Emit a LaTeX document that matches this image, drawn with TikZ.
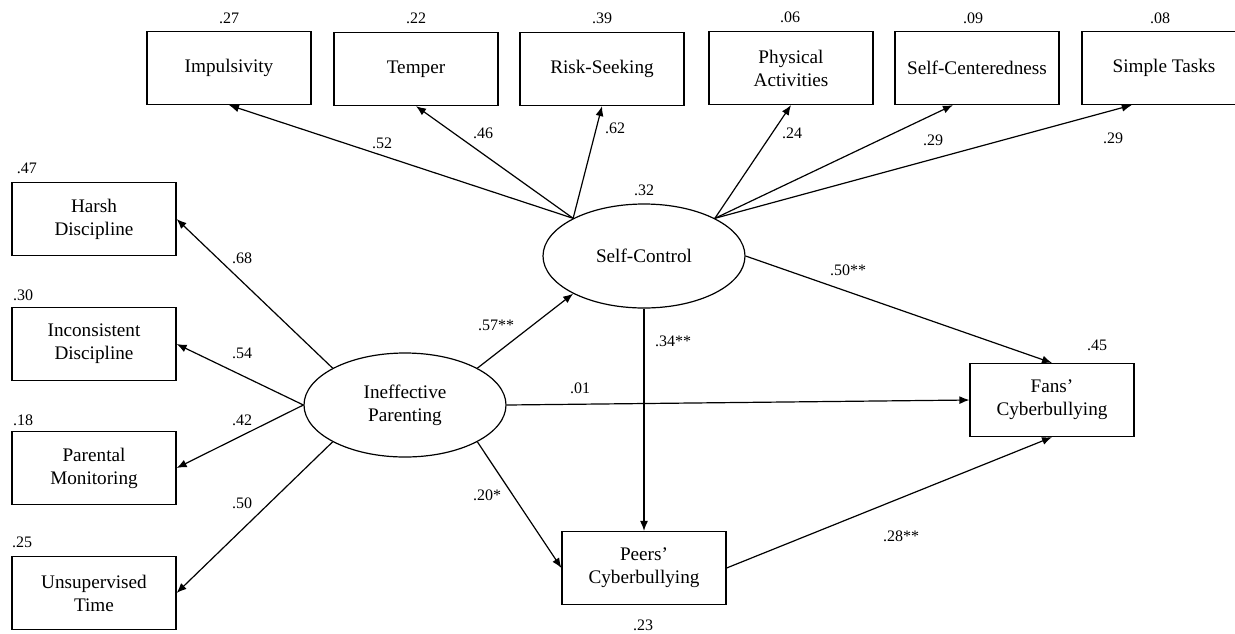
\documentclass[tikz,border=0pt]{standalone}
\usepackage{fontspec}
\setmainfont{Liberation Serif}
\usetikzlibrary{arrows.meta, shapes.geometric}

\begin{document}
\begin{tikzpicture}[>={Latex[length=5pt,width=4pt]}, x=0.5pt, y=-0.5pt, line width=0.6pt,
  font=\fontsize{9.6}{11.5}\selectfont,
  obs/.style={draw, rectangle, minimum width=82pt, minimum height=36.5pt, align=center, inner sep=1pt},
  lat/.style={draw, ellipse, minimum width=101pt, minimum height=52pt, align=center, inner sep=1pt},
  coef/.style={font=\fontsize{8}{9.6}\selectfont, inner sep=0pt}]

\useasboundingbox (0,0) rectangle (1235,633);

% latent variables
\node[lat] (sc) at (644,256) {Self-Control};
\node[lat] (ip) at (405,405) {Ineffective\\Parenting};

% self-control indicators
\node[obs] (imp) at (229,68) {Impulsivity};
\node[obs] (tmp) at (416,69) {Temper};
\node[obs] (rsk) at (602,69) {Risk-Seeking};
\node[obs] (phy) at (791,68) {Physical\\Activities};
\node[obs] (sct) at (977,68) {Self-Centeredness};
\node[obs] (smp) at (1164,68) {Simple Tasks};

% parenting indicators
\node[obs] (hd) at (94,219) {Harsh\\Discipline};
\node[obs] (id) at (94,344) {Inconsistent\\Discipline};
\node[obs] (pm) at (94,468) {Parental\\Monitoring};
\node[obs] (ut) at (94,593) {Unsupervised\\Time};

% outcomes
\node[obs] (peer) at (644,568) {Peers'\\Cyberbullying};
\node[obs] (fan) at (1052,400) {Fans'\\Cyberbullying};

% r-squared
\node[coef] (r-imp) at (229,18) {.27};
\node[coef] (r-tmp) at (416,18) {.22};
\node[coef] (r-rsk) at (602,18) {.39};
\node[coef] (r-phy) at (790,17) {.06};
\node[coef] (r-sct) at (973,18) {.09};
\node[coef] (r-smp) at (1160,18) {.08};
\node[coef] (r-hd) at (27,168) {.47};
\node[coef] (r-id) at (23,295) {.30};
\node[coef] (r-pm) at (23,420) {.18};
\node[coef] (r-ut) at (22,542) {.25};
\node[coef] (r-sc) at (644,190) {.32};
\node[coef] (r-peer) at (643,625) {.23};
\node[coef] (r-fan) at (1097,345) {.45};

% loadings
\draw[->] (sc.152) -- (imp.south);
\draw[->] (sc.152) -- (tmp.south);
\draw[->] (sc.152) -- (rsk.south);
\draw[->] (sc.28) -- (phy.south);
\draw[->] (sc.28) -- (sct.-123);
\draw[->] (sc.28) -- (smp.-131);

\draw[->] (ip.153) -- (hd.east);
\draw[->] (ip.west) -- (id.east);
\draw[->] (ip.west) -- (pm.east);
\draw[->] (ip.207) -- (ut.east);

% paths
\draw[->] (ip.27) -- (sc.208);
\draw[->] (ip.east) -- (fan.west);
\draw[->] (ip.-27) -- (peer.west);
\draw[->] (sc.south) -- (peer.north);
\draw[->] (sc.east) -- (fan.north);
\draw[->] (peer.east) -- (fan.south);

\node[coef] (l-imp) at (382,143) {.52};
\node[coef] (l-tmp) at (483,133) {.46};
\node[coef] (l-rsk) at (615,128) {.62};
\node[coef] (l-phy) at (792,133) {.24};
\node[coef] (l-sct) at (933,140) {.29};
\node[coef] (l-smp) at (1113,138) {.29};
\node[coef] (l-hd) at (242,258) {.68};
\node[coef] (l-id) at (242,353) {.54};
\node[coef] (l-pm) at (242,420) {.42};
\node[coef] (l-ut) at (242,503) {.50};
\node[coef] (l-ipsc) at (496,325) {.57**};
\node[coef] (l-ipfan) at (580,388) {.01};
\node[coef] (l-scpeer) at (673,341) {.34**};
\node[coef] (l-ippeer) at (487,495) {.20*};
\node[coef] (l-scfan) at (848,270) {.50**};
\node[coef] (l-peerfan) at (901,536) {.28**};

\end{tikzpicture}
\end{document}
